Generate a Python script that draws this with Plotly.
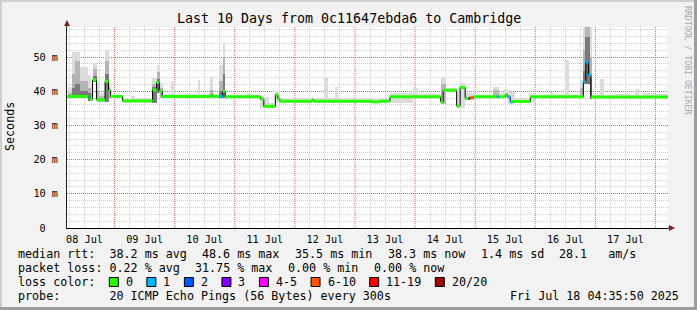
import plotly.graph_objects as go
from datetime import datetime, timedelta

# ---------------- data ----------------
START = datetime(2025, 7, 8, 5, 0)
SPAN_HOURS = 240.0

title_text = "Last 10 Days from 0c11647ebda6 to Cambridge"
day_labels = ["08 Jul", "09 Jul", "10 Jul", "11 Jul", "12 Jul",
              "13 Jul", "14 Jul", "15 Jul", "16 Jul", "17 Jul"]
y_tick_vals = [0, 10, 20, 30, 40, 50]
y_tick_text = ["0  ", "10 m", "20 m", "30 m", "40 m", "50 m"]

# median rtt step segments: start (hours after START), median (ms), lost pings (of 20)
med_t = [0.0, 8.6, 9.0, 10.2, 11.8, 15.2, 16.6, 17.4, 22.2, 34.2, 35.8, 36.8, 38.0,
         57.5, 58.2, 60.8, 62.2, 63.2, 77.4, 78.6, 83.2, 84.2, 85.0, 97.8, 98.4,
         122.0, 124.8, 129.0, 149.2, 150.2, 155.6, 157.0, 159.0, 160.4, 161.0, 162.4,
         171.6, 172.4, 175.0, 175.8, 177.0, 177.8, 185.0, 206.2, 207.2, 208.2, 209.2]
med_v = [38.5, 38.2, 37.7, 43.3, 37.5, 42.9, 40.2, 38.5, 37.2, 40.4, 42.6, 40.0, 38.5,
         39.0, 38.5, 38.4, 40.0, 38.4, 37.7, 35.6, 39.0, 37.8, 37.1, 37.5, 37.1,
         36.9, 37.1, 38.4, 36.9, 40.3, 35.7, 41.1, 37.9, 37.9, 38.1, 38.4,
         38.4, 38.4, 39.0, 38.4, 36.9, 37.0, 38.4, 42.7, 48.5, 44.8, 38.3]
med_loss = [0, 1, 0, 0, 0, 0, 0, 0, 0, 0, 0, 0, 0,
            0, 0, 1, 0, 0, 0, 0, 0, 0, 0, 0, 0,
            0, 0, 0, 0, 0, 0, 0, 0, 3, 8, 0,
            1, 0, 0, 1, 1, 0, 0, 1, 1, 1, 0]

# smoke (ping spread): start h, end h, outer top, inner top, core top (0 = none)
smoke_t0 = [0.4, 2.0, 3.2, 5.2, 8.4, 9.6, 10.2, 11.8, 12.8, 15.0, 16.6, 17.6, 22.0, 25.6, 27.2,
            34.0, 35.8, 37.0, 38.4, 41.6, 43.2, 52.2, 53.2, 57.2, 58.4, 60.8, 62.1, 63.2,
            72.0, 73.6, 77.2, 78.8, 80.8, 83.2, 85.2, 102.8, 104.2, 107.0, 108.4, 128.8,
            138.0, 140.0, 149.2, 151.4, 155.6, 156.6, 158.8, 162.8, 170.0, 172.4, 174.4,
            176.0, 178.8, 184.8, 186.8, 192.8, 194.2, 198.8, 200.4, 204.8, 206.2, 206.8,
            208.8, 209.6, 212.8, 214.6, 218.8, 224.8, 226.8, 228.4, 229.5, 234.8]
smoke_t1 = [2.0, 3.2, 5.2, 8.4, 9.6, 10.2, 11.8, 12.8, 15.0, 16.6, 17.6, 22.0, 25.6, 27.2, 34.0,
            35.8, 37.0, 38.4, 41.6, 43.2, 52.2, 53.2, 57.2, 58.4, 60.8, 62.1, 63.2, 72.0,
            73.6, 77.2, 78.8, 80.8, 83.2, 85.2, 102.8, 104.2, 107.0, 108.4, 128.8, 138.0,
            140.0, 149.2, 151.4, 155.6, 156.6, 158.8, 162.8, 170.0, 172.4, 174.4, 176.0,
            178.8, 184.8, 186.8, 192.8, 194.2, 198.8, 200.4, 204.8, 206.2, 206.8, 208.8,
            209.6, 212.8, 214.6, 218.8, 224.8, 226.8, 228.4, 229.5, 234.8, 240.0]
smoke_hi = [41.3, 51.6, 51.6, 47.2, 44.7, 41.5, 48.2, 42.3, 39.5, 52.2, 42.0, 39.0, 37.8, 38.6, 37.9,
            44.0, 47.7, 42.5, 39.1, 42.8, 39.1, 43.3, 39.1, 43.8, 39.3, 47.7, 54.0, 38.9,
            39.6, 39.0, 38.5, 38.3, 36.5, 40.0, 37.9, 44.1, 37.9, 41.3, 37.9, 39.6,
            41.1, 39.2, 44.1, 41.1, 40.0, 42.4, 39.6, 39.0, 41.2, 39.5, 40.6,
            39.7, 37.9, 39.3, 38.9, 39.7, 38.9, 49.1, 38.9, 43.2, 60.0, 60.0,
            60.0, 38.9, 43.6, 38.9, 39.3, 39.0, 40.8, 39.0, 39.6, 39.2]
smoke_mid = [39.5, 45.0, 49.0, 43.0, 41.0, 39.5, 46.5, 40.0, 38.5, 49.0, 41.0, 0, 0, 0, 0,
             42.0, 45.5, 41.0, 0, 0, 0, 0, 0, 40.5, 0, 43.0, 50.0, 0,
             0, 0, 0, 0, 0, 0, 0, 0, 0, 0, 0, 0,
             0, 0, 42.0, 0, 0, 0, 0, 0, 40.4, 0, 0,
             0, 0, 0, 0, 0, 0, 0, 0, 41.0, 52.0, 60.0,
             50.0, 0, 0, 0, 0, 0, 0, 0, 0, 0]
smoke_core = [0, 41.0, 42.0, 40.0, 39.5, 0, 44.5, 0, 0, 45.0, 0, 0, 0, 0, 0,
              41.2, 43.5, 0, 0, 0, 0, 0, 0, 0, 0, 40.0, 45.0, 0,
              0, 0, 0, 0, 0, 0, 0, 0, 0, 0, 0, 0,
              0, 0, 0, 0, 0, 0, 0, 0, 0, 0, 0,
              0, 0, 0, 0, 0, 0, 0, 0, 0, 46.0, 56.0,
              44.0, 0, 0, 0, 0, 0, 0, 0, 0, 0]

stat_rtt = {"avg": 38.2, "max": 48.6, "min": 35.5, "now": 38.3, "sd": 1.4, "ams": 28.1}
stat_loss = {"avg": 0.22, "max": 31.75, "min": 0.00, "now": 0.00}
loss_labels = ["0", "1", "2", "3", "4-5", "6-10", "11-19", "20/20"]
loss_colors = ["#26ff00", "#00b8ff", "#0059ff", "#7e00ff", "#ff00ff", "#ff5500", "#ff0000", "#a10000"]
probe_text = "20 ICMP Echo Pings (56 Bytes) every 300s"
stamp_text = "Fri Jul 18 04:35:50 2025"

# ---------------- layout constants ----------------
W, H = 697, 310
PL, PR, PT, PB = 67, 668, 27, 228
Y_MAX = 58.8
MONO = "DejaVu Sans Mono"
BG = "#f2f2f2"
GRID = "rgba(150,150,150,0.45)"
MGRID = "rgba(240,60,60,0.8)"
ARROW = "#801f1f"


def fx(px):
    return (px - PL) / (PR - PL)


def fy(py):
    return (PB - py) / (PB - PT)


def T(h):
    return START + timedelta(hours=h)


def nb(s):
    return s.replace(" ", "\u00a0")


def bucket(n):
    if n <= 3:
        return n
    if n <= 5:
        return 4
    if n <= 10:
        return 5
    if n <= 19:
        return 6
    return 7


def median_at(h):
    v = med_v[0]
    for t, m in zip(med_t, med_v):
        if t <= h + 1e-9:
            v = m
    return v


fig = go.Figure()


def smoke_trace(tops, color):
    xs, ws, bases, hs = [], [], [], []
    for t0, t1, top in zip(smoke_t0, smoke_t1, tops):
        if not top:
            continue
        lo = min(median_at(t0), median_at((t0 + t1) / 2), median_at(t1 - 0.01)) - 0.5
        xs.append(T((t0 + t1) / 2))
        ws.append((t1 - t0) * 3600 * 1000)
        bases.append(lo)
        hs.append(top - lo)
    fig.add_trace(go.Bar(x=xs, y=hs, base=bases, width=ws, marker=dict(color=color, line=dict(width=0)),
                         showlegend=False, hoverinfo="skip"))


smoke_trace(smoke_hi, "#dcdcdc")
smoke_trace(smoke_mid, "#b4b4b4")
smoke_trace(smoke_core, "#7a7a7a")

# median step line (black)
ends = med_t[1:] + [SPAN_HOURS]
fig.add_trace(go.Scatter(x=[T(t) for t in med_t] + [T(SPAN_HOURS)], y=med_v + [med_v[-1]],
                         mode="lines", line=dict(color="#000000", width=1, shape="hv"),
                         showlegend=False, hoverinfo="skip"))

# loss-coloured median segments
for b, col in enumerate(loss_colors):
    xs, ys = [], []
    for t0, t1, v, n in zip(med_t, ends, med_v, med_loss):
        if bucket(n) == b:
            xs += [T(t0), T(t1), None]
            ys += [v, v, None]
    if xs:
        fig.add_trace(go.Scatter(x=xs, y=ys, mode="lines", line=dict(color=col, width=3),
                                 showlegend=False, hoverinfo="skip"))

# ---------------- axes ----------------
day0 = datetime(START.year, START.month, START.day)
noons = [day0 + timedelta(days=i, hours=12) for i in range(len(day_labels))]
minors = []
for i in range(11):
    for hh in (6, 18):
        d = day0 + timedelta(days=i, hours=hh)
        if T(0) <= d <= T(SPAN_HOURS):
            minors.append(d)
midnights = [day0 + timedelta(days=i) for i in range(1, 11) if day0 + timedelta(days=i) < T(SPAN_HOURS)]

fig.update_layout(
    width=W, height=H,
    margin=dict(l=PL, r=W - PR, t=PT, b=H - PB, pad=0),
    paper_bgcolor=BG, plot_bgcolor="#ffffff",
    barmode="overlay", bargap=0,
    showlegend=False,
    font=dict(family=MONO, color="#000000"),
    xaxis=dict(type="date", range=[T(0), T(SPAN_HOURS)], tickmode="array", tickvals=noons,
               ticktext=day_labels, showgrid=True, gridcolor=GRID, griddash="1px,1px", gridwidth=1,
               minor=dict(tickmode="array", tickvals=minors, showgrid=True, gridcolor=GRID,
                          griddash="1px,1px", gridwidth=1, ticks=""),
               ticks="", tickfont=dict(family=MONO, size=10.2, color="#000000"),
               ticklabelstandoff=2,
               showline=True, linecolor="#000000", linewidth=1, zeroline=False, fixedrange=True),
    yaxis=dict(range=[0, Y_MAX], tickmode="array", tickvals=y_tick_vals,
               ticktext=[nb(s) for s in y_tick_text],
               showgrid=True, gridcolor=MGRID, griddash="1px,1px", gridwidth=1,
               minor=dict(dtick=2, showgrid=True, gridcolor=GRID, griddash="1px,1px", gridwidth=1, ticks=""),
               ticks="", tickfont=dict(family=MONO, size=10.2, color="#000000"),
               ticklabelstandoff=6,
               showline=True, linecolor="#1f1f1f", linewidth=1, zeroline=False, fixedrange=True),
)

shapes = []
for m in midnights:
    shapes.append(dict(type="line", xref="x", yref="paper", x0=m, x1=m, y0=0, y1=1, layer="below",
                       line=dict(color=MGRID, width=1, dash="1px,1px")))
# axis extensions and arrows
shapes.append(dict(type="line", xref="paper", yref="paper", x0=fx(PR), x1=fx(PR + 4), y0=0, y1=0,
                   line=dict(color="#000000", width=1)))
shapes.append(dict(type="path", xref="paper", yref="paper",
                   path=f"M {fx(PR + 1)} {fy(PB - 3)} L {fx(PR + 7)} {fy(PB)} L {fx(PR + 1)} {fy(PB + 3)} Z",
                   fillcolor=ARROW, line=dict(color=ARROW, width=0)))
shapes.append(dict(type="line", xref="paper", yref="paper", x0=0, x1=0, y0=1, y1=fy(PT - 3),
                   line=dict(color="#1f1f1f", width=1)))
shapes.append(dict(type="path", xref="paper", yref="paper",
                   path=f"M {fx(PL - 3)} {fy(PT - 1)} L {fx(PL)} {fy(PT - 7)} L {fx(PL + 3)} {fy(PT - 1)} Z",
                   fillcolor=ARROW, line=dict(color=ARROW, width=0)))
# frame (3d border)
shapes.append(dict(type="rect", xref="paper", yref="paper", x0=fx(0), x1=fx(W), y0=fy(0), y1=fy(2),
                   fillcolor="#cfcfcf", line=dict(width=0)))
shapes.append(dict(type="rect", xref="paper", yref="paper", x0=fx(0), x1=fx(2), y0=fy(0), y1=fy(H),
                   fillcolor="#cfcfcf", line=dict(width=0)))
shapes.append(dict(type="rect", xref="paper", yref="paper", x0=fx(0), x1=fx(W), y0=fy(H - 3), y1=fy(H),
                   fillcolor="#9e9e9e", line=dict(width=0)))
shapes.append(dict(type="rect", xref="paper", yref="paper", x0=fx(W - 3), x1=fx(W), y0=fy(0), y1=fy(H),
                   fillcolor="#9e9e9e", line=dict(width=0)))

annotations = []


def text(px, py, s, size=11.7, anchor="left", color="#000000", angle=0):
    annotations.append(dict(xref="paper", yref="paper", x=fx(px), y=fy(py), text=nb(s), showarrow=False,
                            xanchor=anchor, yanchor="middle", textangle=angle,
                            font=dict(family=MONO, size=size, color=color)))


text(348.5, 19, title_text, size=13.3, anchor="center")
text(10, 127, "Seconds", size=11.7, anchor="center", angle=-90)
text(688, 60, "RRDTOOL / TOBI OETIKER", size=8.2, anchor="center", color="#a8a8a8", angle=90)

CW = 7.03
GAP = 15.5
LX = 16
row_y = [254.3, 268.3, 282.0, 296.0]

row1 = [f"median rtt:  {stat_rtt['avg']:.1f} ms avg", f"{stat_rtt['max']:.1f} ms max",
        f"{stat_rtt['min']:.1f} ms min", f"{stat_rtt['now']:.1f} ms now",
        f"{stat_rtt['sd']:.1f} ms sd", f"{stat_rtt['ams']:.1f}   am/s"]
row2 = [f"packet loss: {stat_loss['avg']:.2f} % avg", f"{stat_loss['max']:.2f} % max",
        f"{stat_loss['min']:.2f} % min", f"{stat_loss['now']:.2f} % now"]
for row, yy in ((row1, row_y[0]), (row2, row_y[1])):
    x = LX
    for item in row:
        text(x, yy, item)
        x += len(item) * CW + GAP

x = LX
text(x, row_y[2], "loss color:")
x += len("loss color:") * CW + GAP
for lab, col in zip(loss_labels, loss_colors):
    shapes.append(dict(type="rect", xref="paper", yref="paper", x0=fx(x + 0.5), x1=fx(x + 9.5),
                       y0=fy(row_y[2] - 4.5), y1=fy(row_y[2] + 4.5), fillcolor=col,
                       line=dict(color="#000000", width=1)))
    text(x + 15, row_y[2], lab)
    x += 15 + len(lab) * CW + GAP

text(LX, row_y[3], "probe:       " + probe_text)
text(681, row_y[3], stamp_text, anchor="right")

fig.update_layout(shapes=shapes, annotations=annotations)
fig.write_html("out.html", config={"displayModeBar": False, "staticPlot": True})
